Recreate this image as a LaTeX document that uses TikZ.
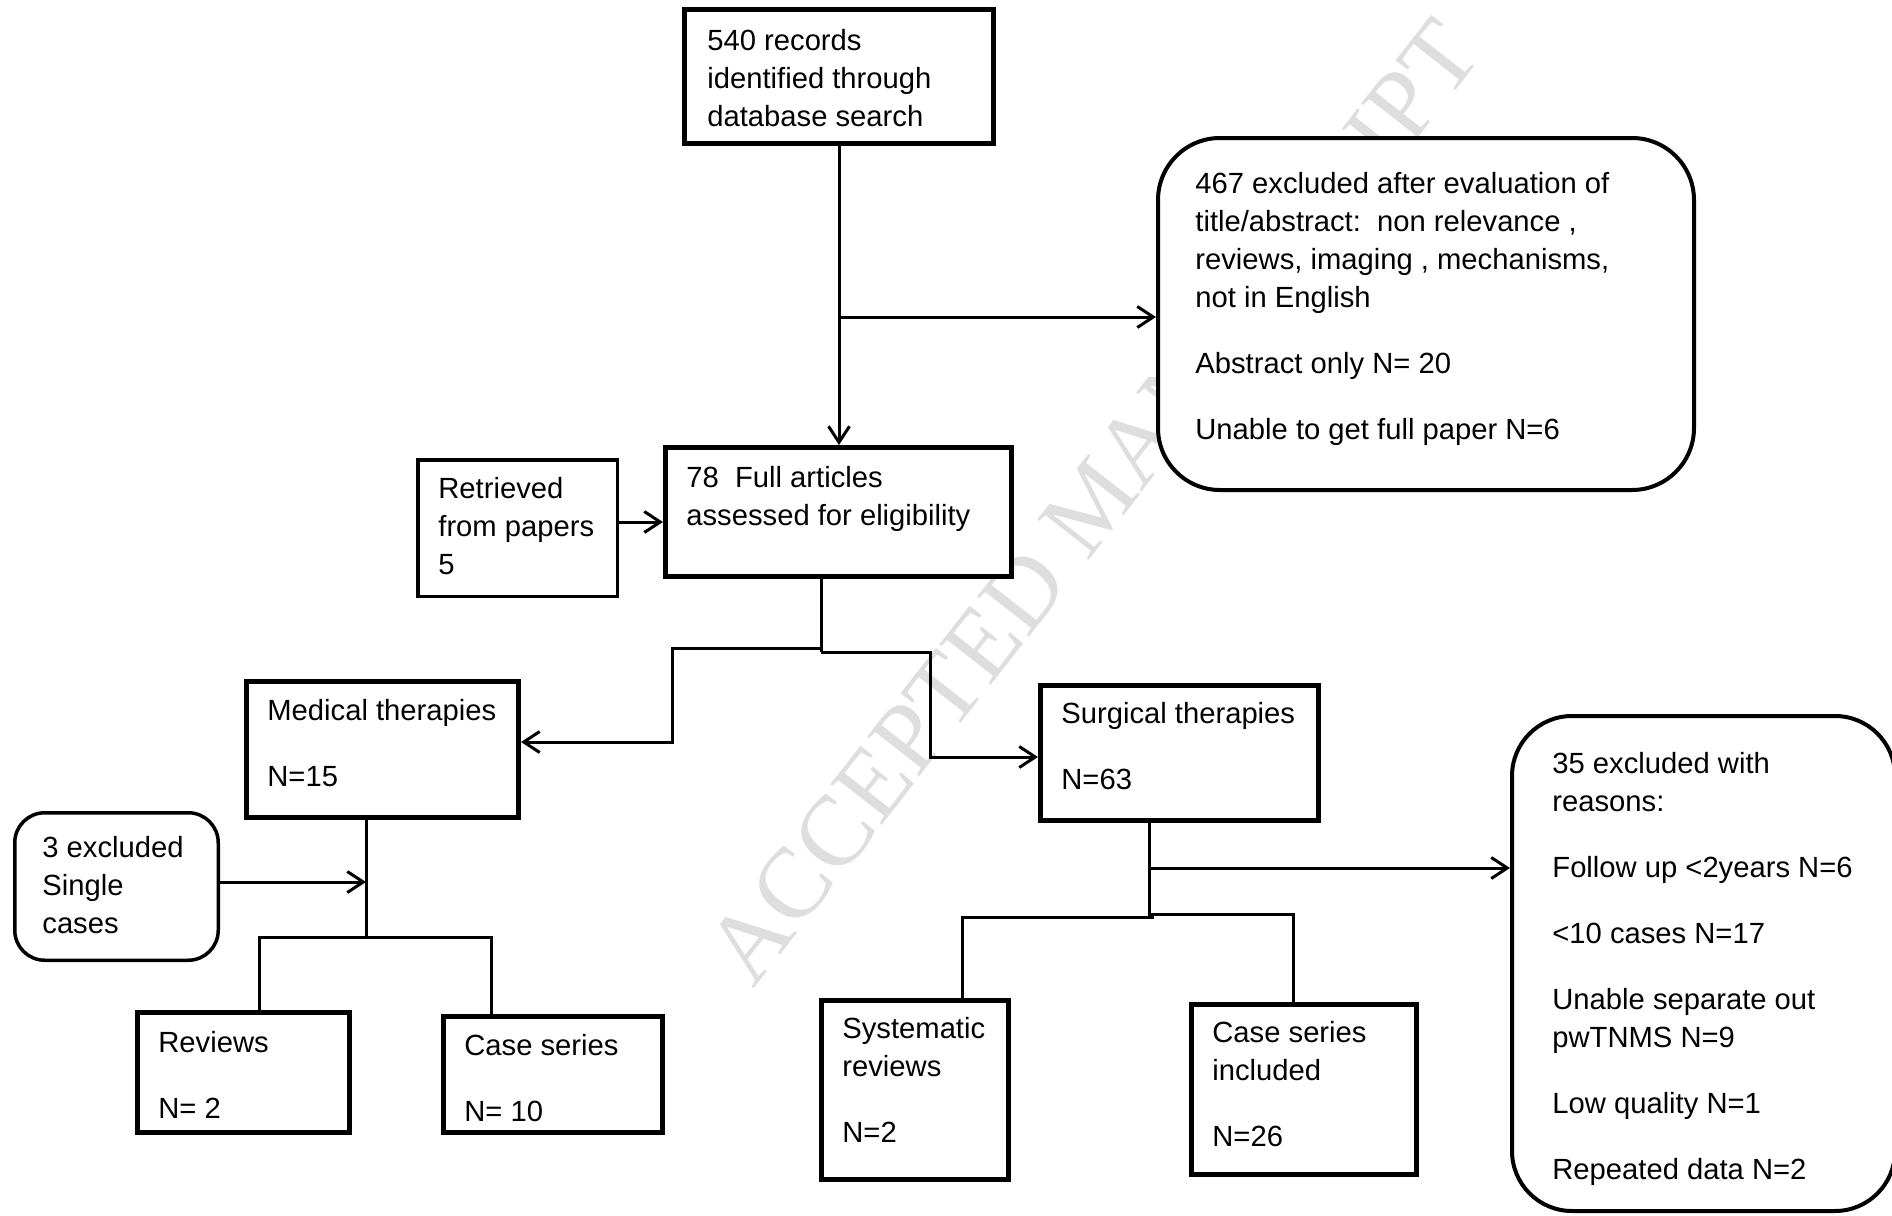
\documentclass[tikz,border=0pt]{standalone}
\usepackage{fontspec}
\setmainfont{Liberation Sans}
\newfontfamily\wmfont{Liberation Serif}
\usetikzlibrary{arrows.meta,fit}
\tikzset{
  box/.style={draw, line width=2.5pt, fill=white, inner sep=0pt},
  thinbox/.style={draw, line width=1.75pt, fill=white, inner sep=0pt},
  rbox/.style={draw, line width=2pt, fill=white, inner sep=0pt},
  txt/.style={inner sep=0pt, anchor=base west, font=\fontsize{14.6pt}{19pt}\selectfont},
  conn/.style={line width=1.5pt},
  arr/.style={conn, -{Straight Barb[length=8pt,width=10.5pt]}},
  wm/.style={inner sep=0pt, rotate=52, text=black!13, font=\wmfont\fontsize{50pt}{50pt}\selectfont}
}
\newcommand{\bt}[2]{\parbox[t]{#1}{\raggedright #2}}
\begin{document}
\begin{tikzpicture}[x=0.5pt,y=-0.5pt]
\useasboundingbox (0,0) rectangle (1892,1216);
\fill[white] (0,0) rectangle (1892,1216);
% watermark
\node[wm] (wm) at (1093,502) {ACCEPTED MANUSCRIPT};

% boxes
\node[box, fit={(684.5,9.5) (993.5,143.5)}] (rec) {};
\node[box, fit={(665.5,447.5) (1011.5,576.5)}] (full) {};
\node[thinbox, fit={(417.75,459.75) (617.25,596.25)}] (retr) {};
\node[rbox, rounded corners=31pt, fit={(1158,138) (1694,490)}] (ex467) {};
\node[box, fit={(246.5,681.5) (518.5,817.5)}] (med) {};
\node[box, fit={(1040.5,685.5) (1318.5,820.5)}] (surg) {};
\node[thinbox, rounded corners=15pt, fit={(14.75,812.75) (218.25,960.25)}] (ex3) {};
\node[box, fit={(137.5,1012.5) (349.5,1132.5)}] (rev) {};
\node[box, fit={(443.5,1016.5) (662.5,1132.5)}] (cs) {};
\node[box, fit={(821.5,1000.5) (1008.5,1179.5)}] (sys) {};
\node[box, fit={(1191.5,1004.5) (1416.5,1174.5)}] (csi) {};
\node[rbox, rounded corners=30pt, fit={(1512,716) (1895,1211)}] (ex35) {};

% texts
\node[txt] (trec) at (707,50) {\bt{150pt}{540 records\\identified through\\database search}};
\node[txt] (tfull) at (686,487) {\bt{170pt}{78\ \ Full articles\\assessed for eligibility}};
\node[txt] (tretr) at (438,498) {\bt{100pt}{Retrieved\\from papers\\5}};
\node[txt] (t467) at (1195,193) {\bt{250pt}{467 excluded after evaluation of\\title/abstract:\ \ non relevance ,\\reviews, imaging , mechanisms,\\not in English\\[14pt]Abstract only N= 20\\[14pt]Unable to get full paper N=6}};
\node[txt] (tmed) at (267,720) {\bt{130pt}{Medical therapies\\[14pt]N=15}};
\node[txt] (tsurg) at (1061,723) {\bt{130pt}{Surgical therapies\\[14pt]N=63}};
\node[txt] (tex3) at (42,857) {\bt{90pt}{3 excluded\\Single\\cases}};
\node[txt] (trev) at (158,1052) {\bt{100pt}{Reviews\\[14pt]N= 2}};
\node[txt] (tcs) at (464,1055) {\bt{100pt}{Case series\\[14pt]N= 10}};
\node[txt] (tsys) at (842,1038) {\bt{90pt}{Systematic\\reviews\\[14pt]N=2}};
\node[txt] (tcsi) at (1212,1042) {\bt{100pt}{Case series\\included\\[14pt]N=26}};
\node[txt] (t35) at (1552,773) {\bt{170pt}{35 excluded with\\reasons:\\[14pt]Follow up <2years N=6\\[14pt]<10 cases N=17\\[14pt]Unable separate out\\pwTNMS N=9\\[14pt]Low quality N=1\\[14pt]Repeated data N=2}};

% junction coordinates
\coordinate (j1) at (839,317);
\coordinate (r1) at (617.25,522);
\coordinate (fl) at (821,648);
\coordinate (fr) at (821,652);
\coordinate (ml) at (672,742);
\coordinate (sr) at (930,757);
\coordinate (m1) at (366,937);
\coordinate (e3) at (218.25,882);
\coordinate (mjl) at (259,937);
\coordinate (mjr) at (491,937);
\coordinate (s1) at (1149,917);
\coordinate (s2) at (1149,868);
\coordinate (sjl) at (962,917);
\coordinate (sjle) at (1154,917);
\coordinate (sjrs) at (1149,914);
\coordinate (sjr) at (1293,914);

% connectors
\draw[arr] (rec.south) -- (rec.south |- full.north);
\draw[arr] (j1) -- (j1 -| ex467.west);
\draw[arr] (r1) -- (r1 -| full.west);
\draw[conn] (full.south -| fl) -- (fr);
\draw[arr] (fl) -| (ml) -- (ml -| med.east);
\draw[arr] (fr) -| (sr) -- (sr -| surg.west);
\draw[conn] (med.south -| m1) -- (m1);
\draw[arr] (e3) -- (e3 -| m1);
\draw[conn] (rev.north -| mjl) |- (mjr) -- (cs.north -| mjr);
\draw[conn] (surg.south -| s1) -- (s1);
\draw[arr] (s2) -- (s2 -| ex35.west);
\draw[conn] (sys.north -| sjl) |- (sjle);
\draw[conn] (sjrs) -| (csi.north -| sjr);
\end{tikzpicture}
\end{document}
